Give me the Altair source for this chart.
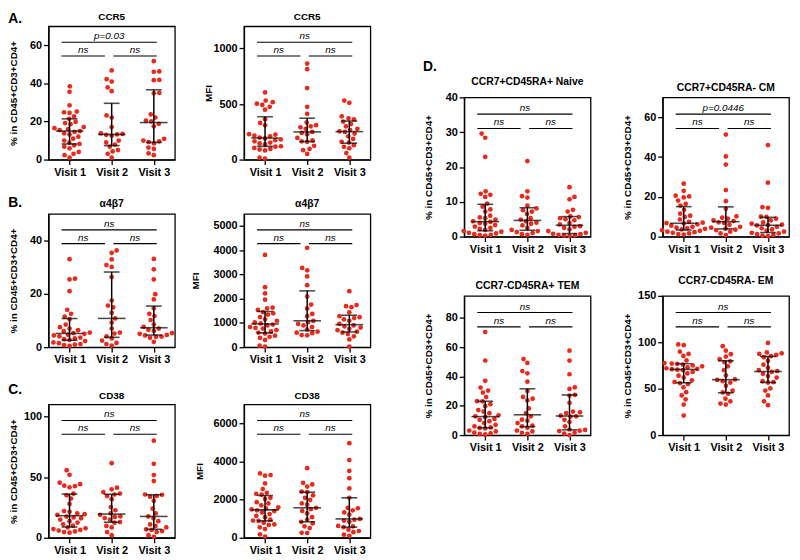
import altair as alt
import numpy as np
import pandas as pd

RED = "#e8291c"
FONT = "Liberation Sans"

# ---------------- data ----------------
visits = [1, 2, 3]

# A. CCR5
ccr5_pct_v1 = [38.5, 35.6, 28.5, 25.2, 24.8, 24.5, 22.7, 21.4, 19.8, 19.2, 18.6, 17.1, 16.5, 16.0, 15.5, 15.0,
               14.5, 13.8, 13.2, 12.0, 11.0, 10.0, 8.9, 8.2, 7.5, 6.8, 5.9, 4.0, 3.0, 2.3, 1.0]
ccr5_pct_v2 = [46.8, 42.2, 41.0, 37.9, 35.9, 23.2, 22.1, 17.1, 13.8, 13.5, 13.2, 13.0, 12.5, 10.0, 9.0, 7.9,
               6.8, 5.0, 4.3, 3.0, 1.0]
ccr5_pct_v3 = [51.7, 46.3, 46.1, 41.8, 41.7, 35.0, 34.8, 23.7, 22.1, 20.1, 20.5, 18.8, 17.5, 10.9, 10.0, 9.6,
               9.2, 8.5, 6.3, 5.6, 3.3, 2.3]
ccr5_mfi_v1 = [605, 531, 517, 503, 492, 475, 449, 364, 330, 308, 229, 225, 215, 210, 198, 190, 181, 175, 164,
               153, 145, 136, 120, 116, 105, 96, 90, 82, 17, 8]
ccr5_mfi_v2 = [864, 814, 644, 475, 412, 333, 310, 299, 291, 277, 249, 240, 229, 195, 172, 164, 160, 124, 96, 85, 51]
ccr5_mfi_v3 = [531, 511, 390, 370, 362, 342, 320, 299, 277, 266, 255, 249, 234, 209, 186, 160, 153, 130, 115,
               102, 59, 17]

# B. a4b7
a4b7_pct_v1 = [33, 25.7, 25.4, 21, 14, 12.5, 11.5, 10.5, 8.5, 7.5, 7, 6.4, 6, 5.5, 5.3, 5, 4.7, 4.4, 4.1, 3.6,
               3.3, 3, 2.7, 2.3, 1.8, 1.5, 1.2, 1.0, 0.8, 0.5]
a4b7_pct_v2 = [36.3, 35.4, 32.9, 30.8, 30.1, 26.3, 17.5, 15.6, 14.9, 12.9, 10.8, 9.2, 7, 5.5, 5.1, 4.1, 3.3,
               2.5, 1.6, 1.2, 0.6]
a4b7_pct_v3 = [33.1, 29.2, 25.4, 19.9, 17.9, 14.6, 12.5, 11.7, 10.2, 8.5, 7.6, 7.0, 6.5, 6.1, 5.3, 5.0, 4.6,
               4.4, 4.0, 3.9, 3.5, 2.0]
a4b7_mfi_v1 = [3808, 2474, 2218, 1962, 1628, 1600, 1538, 1449, 1400, 1346, 1244, 1150, 1090, 1026, 980, 936,
               900, 833, 800, 769, 705, 650, 603, 560, 474, 430, 385, 300, 64, 26]
a4b7_mfi_v2 = [4100, 3270, 3170, 2920, 2560, 2090, 1760, 1600, 1370, 1280, 1090, 1030, 960, 900, 833, 730, 640,
               600, 580, 500, 490]
a4b7_mfi_v3 = [2310, 1740, 1690, 1650, 1440, 1280, 1240, 1200, 1150, 1090, 960, 900, 860, 810, 760, 700, 640,
               600, 540, 450, 320, 26]

# C. CD38
cd38_pct_v1 = [55.8, 51.9, 45.5, 44.2, 43, 42.6, 41.6, 36.4, 35, 32.3, 27.9, 22, 21.4, 20.2, 19.5, 18.9, 17.5,
               16.8, 16, 15, 13.7, 12.5, 11.1, 10, 8.5, 7.8, 7.2, 6.5, 5.9, 5.2, 4.7, 4.2]
cd38_pct_v2 = [61.5, 41.3, 40, 37.7, 36.5, 35.7, 34.4, 31.8, 25.3, 22.7, 20.2, 18.9, 17.6, 17.2, 16.3, 15, 13,
               12.4, 9.8, 8.5, 4.7, 2.1]
cd38_pct_v3 = [80.1, 61, 51.7, 46.8, 35.7, 35.5, 34.4, 33.9, 30.5, 24, 20.2, 17.6, 16, 13.7, 11, 9.8, 8.5, 7,
               6.5, 5.5, 4.7, 2.1, 0.8]
cd38_mfi_v1 = [3377, 3295, 3262, 2852, 2557, 2360, 2311, 2262, 2100, 2033, 1869, 1800, 1705, 1600, 1541, 1490,
               1443, 1400, 1328, 1246, 1150, 1082, 951, 900, 885, 787, 700, 672, 550, 459, 180, 66]
cd38_mfi_v2 = [3656, 2885, 2803, 2689, 2426, 2393, 2230, 2100, 1984, 1800, 1738, 1574, 1500, 1410, 1279, 1082,
               950, 836, 754, 600, 508, 262, 250]
cd38_mfi_v3 = [4967, 4082, 3508, 3131, 2590, 2098, 1574, 1550, 1443, 1328, 1213, 990, 951, 900, 836, 623, 600,
               557, 426, 350, 295, 164, 100]

# D. memory subsets
naive_v1 = [29.6, 28.4, 22.9, 13, 12.3, 12, 11.4, 9.5, 8.6, 7.8, 7.2, 6, 5.5, 5.3, 4.9, 4.4, 4.2, 3.9, 3.7, 3.3,
            2.9, 2.5, 2.2, 1.9, 1.6, 1.4, 1.1, 0.9, 0.7, 0.5, 0.4, 0.3]
naive_v2 = [21.7, 13, 11.6, 11.2, 8.9, 8.1, 7.6, 7.2, 6.5, 5.3, 4.9, 4.4, 4.0, 3.7, 3.2, 2.5, 1.9, 1.6, 1.3,
            1.0, 0.7, 0.5]
naive_v3 = [14.2, 11.4, 10.7, 7.7, 7.2, 5.8, 5.6, 5.3, 5.0, 4.7, 3.9, 3.5, 3.0, 2.8, 2.5, 2.1, 1.6, 1.1, 0.8,
            0.7, 0.5, 0.4, 0.3, 0.2]
cm_v1 = [26.6, 23, 20.6, 20.2, 19.7, 18.1, 16.5, 15.6, 13.5, 11.5, 10.5, 9.9, 8.6, 7.4, 7, 6.8, 6.6, 6.2, 5.5,
         4.9, 4.5, 4.2, 3.9, 3.6, 3.2, 2.9, 2.5, 2.2, 1.9, 1.6, 1.3, 1.0]
cm_v2 = [51.3, 40.3, 36.2, 23.4, 17.8, 14, 10.2, 9.5, 9.0, 8.2, 7.8, 7.2, 6.9, 6.0, 4.9, 4.5, 4.0, 3.5, 3.3, 2.5,
         1.6, 0.8]
cm_v3 = [46, 27.1, 14.8, 14.5, 10, 9.9, 9.0, 8.2, 7.1, 6.5, 6.0, 5.8, 5.6, 4.9, 4.2, 3.6, 3.0, 2.5, 1.9, 1.6,
         1.3, 0.9, 0.5, 0.3]
tem_v1 = [70.3, 50.8, 37, 32.4, 30.4, 29, 25.9, 23.1, 23, 21.1, 19.7, 17.1, 16, 14.9, 13.5, 12.8, 12.4, 11,
          10.4, 9.5, 8.2, 7, 6, 5.2, 4.9, 4.5, 3.1, 2.5, 1.6, 1.2, 0.8, 0.4]
tem_v2 = [51.9, 49.2, 43.7, 42.1, 36.4, 30, 26, 24.8, 23.7, 18.2, 14.9, 12.8, 10.5, 9.8, 8.2, 6.5, 6.0, 5.0,
          3.1, 2.5, 1.5, 0.9]
tem_v3 = [57.6, 50.8, 41.5, 32.6, 31.5, 27.5, 27, 22, 16, 15.5, 14.9, 13.2, 12.8, 12.6, 10.4, 8.9, 6, 3.8, 3.5,
          3.0, 2.7, 1.6, 1.0, 0]
em_v1 = [97.6, 96.9, 89.9, 87.4, 85.3, 80.4, 77.6, 77, 76.6, 76, 75, 74.1, 73, 72, 71.3, 71, 70.5, 69.9, 68,
         66.4, 64, 61.9, 59, 57.3, 56, 54.9, 51.4, 46.2, 42.7, 38.5, 32.9, 21]
em_v2 = [95.8, 90.9, 87.1, 84.6, 81.8, 79.5, 78.7, 74.1, 69.9, 64.3, 60, 59.4, 58, 56.6, 53.1, 47.9, 46, 44.4,
         39.2, 36.4, 34, 32.9]
em_v3 = [99.3, 89, 88.1, 87.4, 86.4, 85, 83.9, 80, 75.9, 72.4, 70, 68.9, 68, 66, 63.6, 61.9, 58, 57, 56.6, 50.3,
         47.9, 42.7, 36.4, 32.2]

# significance labels: (top bracket, lower-left, lower-right)
sig_ccr5_pct = ["p=0.03", "ns", "ns"]
sig_cm = ["p=0.0446", "ns", "ns"]
sig_ns = ["ns", "ns", "ns"]

YTITLE = "% in CD45+CD3+CD4+"

# ---------------- helpers ----------------
def swarm(vals, ymax, h, px_per_unit, d=5.6):
    """Deterministic beeswarm layout (horizontal offsets in x-units)."""
    vals = np.asarray(vals, dtype=float)
    order = np.argsort(vals, kind="stable")
    placed = []
    offs = np.zeros(len(vals))
    for k, i in enumerate(order):
        y = vals[i] / ymax * h
        cands = [0.0]
        for px, py in placed:
            dy = abs(py - y)
            if dy < d:
                dx = np.sqrt(d * d - dy * dy)
                cands += [px + dx, px - dx]
        sgn = 1 if k % 2 == 0 else -1
        cands.sort(key=lambda c: (round(abs(c), 6), -sgn * c))
        chosen = 0.0
        for c in cands:
            if all((c - px) ** 2 + (y - py) ** 2 >= d * d - 1e-6 for px, py in placed):
                chosen = c
                break
        placed.append((chosen, y))
        offs[i] = chosen / px_per_unit
    return offs


XSCALE = alt.Scale(domain=[0.5, 3.5], nice=False, zero=False)


def panel(series, title, ymax, ticks, sig, ytitle, tpad, width, height, title_size=10):
    ppu = width / 3.0
    pts = []
    stats, whisk = [], []
    for v, vals in zip(visits, series):
        offs = swarm(vals, ymax, height, ppu)
        for val, o in zip(vals, offs):
            pts.append({"x": v + o, "y": val})
        q1, med, q3 = np.percentile(np.asarray(vals, float), [25, 50, 75], method="weibull")
        stats.append({"x": v, "y": q1, "y2": q3, "med": med})
        whisk += [{"x": v, "y": q1}, {"x": v, "y": q3}]
    pts = pd.DataFrame(pts)
    stats = pd.DataFrame(stats)
    meds = stats[["x", "med"]].rename(columns={"med": "y"})
    whisk = pd.DataFrame(whisk)

    top_lvl, low_lvl = 0.88 * ymax, 0.777 * ymax
    brk = pd.DataFrame({
        "x": [0.81, 0.81, 2.04],
        "x2": [3.07, 1.84, 3.07],
        "y": [top_lvl, low_lvl, low_lvl],
        "label": sig,
    })
    brk_txt = pd.DataFrame({"x": (brk["x"] + brk["x2"]) / 2, "y": brk["y"], "label": brk["label"]})

    xenc = alt.X("x:Q", scale=XSCALE,
                 axis=alt.Axis(values=visits, labelExpr="'Visit ' + datum.value", title=None,
                               labelFontSize=11, labelFontWeight="bold", labelPadding=2,
                               grid=False, labelFlush=False))
    yenc = alt.Y("y:Q", scale=alt.Scale(domain=[0, ymax], nice=False),
                 axis=alt.Axis(values=ticks, format="d", title=ytitle, titleFontSize=10,
                               titleFontWeight="bold", labelFontSize=11, labelFontWeight="bold",
                               labelPadding=2, minExtent=22, maxExtent=22, titlePadding=tpad,
                               grid=False, labelFlush=False))

    layers = [
        alt.Chart(pts).mark_circle(size=23, color=RED, opacity=1).encode(x=xenc, y=yenc),
        alt.Chart(stats).mark_rule(color="black", strokeWidth=1.5).encode(x=xenc, y=yenc, y2="y2:Q"),
        alt.Chart(meds).mark_tick(orient="horizontal", size=28, thickness=1.6, color="black").encode(x=xenc, y=yenc),
        alt.Chart(whisk).mark_tick(orient="horizontal", size=16, thickness=1.6, color="black").encode(x=xenc, y=yenc),
        alt.Chart(brk).mark_rule(color="black", strokeWidth=1.1).encode(x=xenc, x2="x2:Q", y=yenc),
        alt.Chart(brk_txt).mark_text(font=FONT, fontStyle="italic", fontSize=10, baseline="bottom", dy=-1,
                                     color="black").encode(x=xenc, y=yenc, text="label:N"),
    ]
    return alt.layer(*layers).properties(
        width=width, height=height,
        title=alt.TitleParams(title, font=FONT, fontSize=title_size, fontWeight="bold", offset=4,
                              anchor="middle", frame="group", color="black"),
    )


def letter_title(text, offset):
    return alt.TitleParams(text, font=FONT, fontSize=14, fontWeight="bold", anchor="start",
                           frame="bounds", offset=offset, color="black")


W, H = 128, 135
WD, HD = 128, 141

a_l = panel([ccr5_pct_v1, ccr5_pct_v2, ccr5_pct_v3], "CCR5", 70, [0, 20, 40, 60], sig_ccr5_pct, YTITLE, 8, W, H)
a_r = panel([ccr5_mfi_v1, ccr5_mfi_v2, ccr5_mfi_v3], "CCR5", 1200, [0, 500, 1000], sig_ns, "MFI", 9, W, H)
b_l = panel([a4b7_pct_v1, a4b7_pct_v2, a4b7_pct_v3], "α4β7", 50, [0, 20, 40], sig_ns, YTITLE, 8, W, H, 10.5)
b_r = panel([a4b7_mfi_v1, a4b7_mfi_v2, a4b7_mfi_v3], "α4β7", 5500, [0, 1000, 2000, 3000, 4000, 5000], sig_ns, "MFI", 22, W, H, 10.5)
c_l = panel([cd38_pct_v1, cd38_pct_v2, cd38_pct_v3], "CD38", 110, [0, 50, 100], sig_ns, YTITLE, 8, W, H)
c_r = panel([cd38_mfi_v1, cd38_mfi_v2, cd38_mfi_v3], "CD38", 7000, [0, 2000, 4000, 6000], sig_ns, "MFI", 18, W, H)

d1 = panel([naive_v1, naive_v2, naive_v3], "CCR7+CD45RA+ Naive", 40, [0, 10, 20, 30, 40], sig_ns, YTITLE, 9, WD, HD, 10.5)
d2 = panel([cm_v1, cm_v2, cm_v3], "CCR7+CD45RA- CM", 70, [0, 20, 40, 60], sig_cm, YTITLE, 9, WD, HD, 10.5)
d3 = panel([tem_v1, tem_v2, tem_v3], "CCR7-CD45RA+ TEM", 95, [0, 20, 40, 60, 80], sig_ns, YTITLE, 9, WD, HD, 10.5)
d4 = panel([em_v1, em_v2, em_v3], "CCR7-CD45RA- EM", 150, [0, 50, 100, 150], sig_ns, YTITLE, 9, WD, HD, 10.5)

left = alt.vconcat(
    alt.hconcat(a_l, a_r, spacing=27, title=letter_title("A.", -14)),
    alt.hconcat(b_l, b_r, spacing=14, title=letter_title("B.", -11)),
    alt.hconcat(c_l, c_r, spacing=18, title=letter_title("C.", -7)),
    spacing=17,
)

spacer = alt.Chart(pd.DataFrame({"v": [0]})).mark_point(opacity=0).encode(
    x=alt.value(0), y=alt.value(0)
).properties(width=10, height=23, view=alt.ViewBackground(strokeOpacity=0))

d_group = alt.vconcat(
    alt.hconcat(d1, d2, spacing=30),
    alt.hconcat(d3, d4, spacing=30),
    spacing=19,
    title=letter_title("D.", 3),
)

right = alt.vconcat(spacer, d_group, spacing=10)

chart = alt.hconcat(left, right, spacing=52).properties(
    padding={"left": 0, "top": 0, "right": 2, "bottom": 0},
    background="white",
).configure_view(
    stroke="black", strokeWidth=1.3
).configure_axis(
    domainColor="black", domainWidth=1.3, tickColor="black", tickWidth=1.3, tickSize=5,
    labelColor="black", titleColor="black", labelFont=FONT, titleFont=FONT,
).configure_concat(spacing=20)

chart.save("out.html", embed_options={"renderer": "svg", "actions": False})
